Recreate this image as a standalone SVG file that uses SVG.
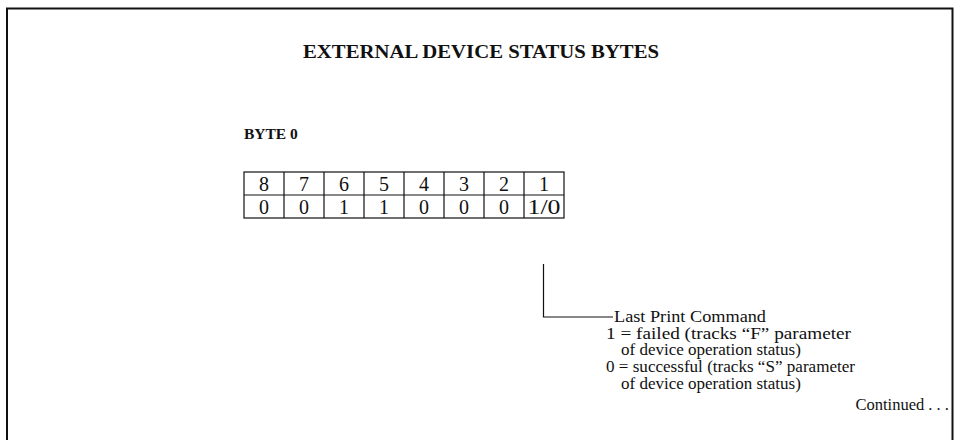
<svg xmlns="http://www.w3.org/2000/svg" width="955" height="440" viewBox="0 0 955 440">
<style>
text{font-family:"Liberation Serif","Times New Roman",serif;fill:#111}
.b{font-weight:bold}
.cell{font-size:20px;text-anchor:middle}
.note{font-size:17px}
.ln{fill:none;stroke:#111;stroke-width:1.2}
</style>
<rect width="955" height="440" fill="#fff"/>
<path d="M7,445 V8.5 H952.5 V445" fill="none" stroke="#111" stroke-width="2"/>
<text class="b" x="303" y="58" font-size="19.5" textLength="356" lengthAdjust="spacingAndGlyphs">EXTERNAL DEVICE STATUS BYTES</text>
<text class="b" x="244" y="139" font-size="15.5">BYTE 0</text>
<g id="byte0">
<rect x="244" y="172" width="320" height="46" class="ln"/>
<line x1="244" y1="195" x2="564" y2="195" class="ln"/>
<path class="ln" d="M284,172V218M324,172V218M364,172V218M404,172V218M444,172V218M484,172V218M524,172V218"/>
<text class="cell" x="264" y="191">8</text><text class="cell" x="304" y="191">7</text><text class="cell" x="344" y="191">6</text><text class="cell" x="384" y="191">5</text><text class="cell" x="424" y="191">4</text><text class="cell" x="464" y="191">3</text><text class="cell" x="504" y="191">2</text><text class="cell" x="544" y="191">1</text>
<text class="cell" x="264" y="214">0</text><text class="cell" x="304" y="214">0</text><text class="cell" x="344" y="214">1</text><text class="cell" x="384" y="214">1</text><text class="cell" x="424" y="214">0</text><text class="cell" x="464" y="214">0</text><text class="cell" x="504" y="214">0</text><text class="cell" x="544" y="214" textLength="33" lengthAdjust="spacingAndGlyphs">1/0</text>
</g>
<g id="connectors">
<path class="ln" d="M543.5,264V317H613"/>
</g>
<g id="note">
<text class="note" x="614" y="322" textLength="152" lengthAdjust="spacingAndGlyphs">Last Print Command</text>
<text class="note" x="606" y="339" textLength="245" lengthAdjust="spacingAndGlyphs">1 = failed (tracks “F” parameter</text>
<text class="note" x="621" y="355">of device operation status)</text>
<text class="note" x="606" y="372" textLength="249" lengthAdjust="spacingAndGlyphs">0 = successful (tracks “S” parameter</text>
<text class="note" x="621" y="389">of device operation status)</text>
</g>
<text x="949" y="410" font-size="16.5" text-anchor="end">Continued . . .</text>
</svg>
